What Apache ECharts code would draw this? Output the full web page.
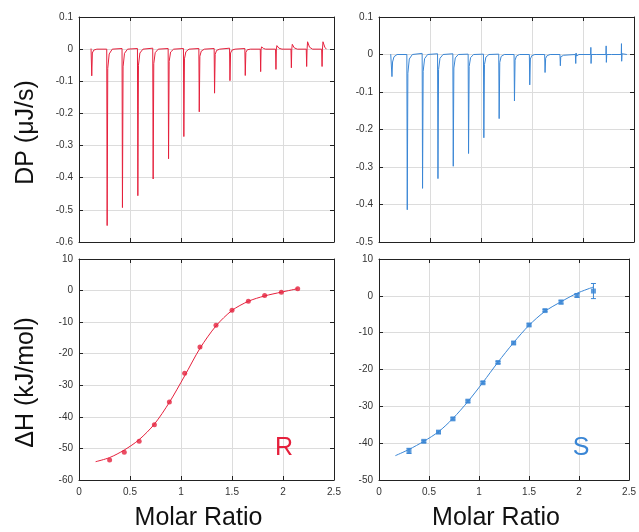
<!DOCTYPE html>
<html><head><meta charset="utf-8">
<script src="https://cdn.jsdelivr.net/npm/echarts@6/dist/echarts.min.js"></script>
<style>html,body{margin:0;padding:0;background:#fff}#c{width:639px;height:532px}</style>
</head><body><div id="c"></div>
<script>
// ---- Data ----
const xTicks = ['0', '0.5', '1', '1.5', '2', '2.5'];
// Raw thermogram traces (R = red, S = blue), [molar ratio position, DP µJ/s]
const dpR = [[0.118,0.002],[0.121,0],[0.125,-0.083],[0.131,-0.012],[0.145,-0.003],[0.175,0],
  [0.272,0],[0.276,-0.549],[0.282,-0.06],[0.296,-0.015],[0.326,0],
  [0.422,0.002],[0.426,-0.493],[0.432,-0.055],[0.446,-0.013],[0.476,0],
  [0.573,0.002],[0.577,-0.456],[0.583,-0.05],[0.597,-0.012],[0.627,0],
  [0.723,0.003],[0.727,-0.404],[0.733,-0.045],[0.747,-0.011],[0.777,0],
  [0.874,0.002],[0.878,-0.341],[0.884,-0.038],[0.898,-0.009],[0.928,0],
  [1.024,0.002],[1.028,-0.272],[1.034,-0.03],[1.048,-0.008],[1.078,0],
  [1.175,0.002],[1.179,-0.195],[1.185,-0.022],[1.199,-0.006],[1.229,0],
  [1.325,0.002],[1.329,-0.137],[1.335,-0.016],[1.349,-0.004],[1.379,0],
  [1.476,0.003],[1.480,-0.098],[1.486,-0.012],[1.500,-0.003],[1.530,0],
  [1.626,0.002],[1.630,-0.082],[1.636,-0.01],[1.650,-0.002],[1.680,0],
  [1.777,0],[1.781,-0.070],[1.785,0],[1.790,0.007],[1.81,0.002],[1.83,0],
  [1.927,0],[1.931,-0.063],[1.935,0],[1.940,0.011],[1.96,0.003],[1.99,0],
  [2.078,0],[2.082,-0.058],[2.086,0],[2.091,0.015],[2.11,0.004],[2.14,0],
  [2.228,0],[2.232,-0.054],[2.236,0],[2.241,0.023],[2.26,0.006],[2.29,0],
  [2.379,0],[2.383,-0.054],[2.387,0],[2.392,0.023],[2.41,0.006],[2.425,0]];
const dpS = [[0.115,0.001],[0.123,0],[0.127,-0.059],[0.133,-0.02],[0.147,-0.006],[0.177,0],
  [0.273,0],[0.277,-0.414],[0.283,-0.05],[0.297,-0.012],[0.327,0],
  [0.423,0.003],[0.427,-0.357],[0.433,-0.045],[0.447,-0.011],[0.477,0],
  [0.574,0.002],[0.578,-0.331],[0.584,-0.04],[0.598,-0.01],[0.628,0],
  [0.724,0.002],[0.728,-0.298],[0.734,-0.036],[0.748,-0.009],[0.778,0],
  [0.874,0.001],[0.878,-0.264],[0.884,-0.032],[0.898,-0.008],[0.928,0],
  [1.024,0.001],[1.028,-0.222],[1.034,-0.027],[1.048,-0.007],[1.078,0],
  [1.174,0.001],[1.178,-0.171],[1.184,-0.021],[1.198,-0.005],[1.228,0],
  [1.324,0],[1.328,-0.124],[1.334,-0.015],[1.348,-0.004],[1.378,0],
  [1.474,0],[1.478,-0.081],[1.484,-0.012],[1.498,-0.003],[1.528,0],
  [1.624,0],[1.628,-0.048],[1.634,-0.01],[1.648,-0.003],[1.678,0],
  [1.774,0],[1.778,-0.030],[1.782,-0.006],[1.79,-0.008],[1.81,-0.002],[1.828,0],
  [1.925,0],[1.929,-0.024],[1.932,0.004],[1.937,-0.004],[1.96,0],[1.979,0],
  [2.075,0],[2.077,0.019],[2.079,-0.024],[2.083,0],[2.129,0],
  [2.225,0],[2.227,0.023],[2.229,-0.021],[2.233,0],[2.279,0],
  [2.375,0],[2.377,0.029],[2.379,-0.018],[2.383,0.002],[2.40,0.001],[2.43,0]];
// Integrated heats
const ratioR = [0.30,0.444,0.59,0.739,0.886,1.036,1.186,1.343,1.50,1.66,1.82,1.984,2.144];
const dhR    = [-53.7,-51.2,-47.7,-42.5,-35.3,-26.2,-17.9,-11.0,-6.2,-3.4,-1.6,-0.5,0.6];
const fitRx  = [0.163,0.30,0.444,0.59,0.739,0.886,1.036,1.186,1.343,1.50,1.66,1.82,1.984,2.144];
const fitRy  = [-54.2,-52.9,-50.5,-47.2,-42.3,-35.4,-27.0,-18.3,-11.2,-6.3,-3.4,-1.7,-0.5,0.6];
const ratioS = [0.30,0.448,0.595,0.739,0.889,1.039,1.19,1.346,1.50,1.66,1.82,1.98,2.144];
const dhS    = [-42.1,-39.5,-37.0,-33.4,-28.6,-23.6,-18.1,-12.8,-7.9,-4.0,-1.7,0.1,1.3];
const errS   = [0.7,0.3,0.3,0.3,0.3,0.3,0.3,0.3,0.3,0.3,0.5,0.5,2.05];
const fitSx  = [0.163,0.30,0.448,0.595,0.739,0.889,1.039,1.19,1.346,1.50,1.66,1.82,1.98,2.144];
const fitSy  = [-43.4,-41.7,-39.5,-36.9,-33.3,-28.7,-23.5,-18.0,-12.7,-8.0,-4.2,-1.6,0.7,2.4];

// ---- Style ----
const RED = '#e5203c', BLUE = '#3a86d5';
const FONT = 'Liberation Sans, Arial, Helvetica, sans-serif';
const chart = echarts.init(document.getElementById('c'), null, {renderer: 'canvas'});

const grids = [
  {left: 79, top: 17, width: 255, height: 225},
  {left: 379, top: 17, width: 255, height: 225},
  {left: 79, top: 259, width: 255, height: 225},
  {left: 379, top: 259, width: 255, height: 225}
];
const yRanges = [[-0.6, 0.1, 0.1], [-0.5, 0.1, 0.1], [-60, 10, 10], [-50, 10, 10]];

const lineSty = {show: true, onZero: false, lineStyle: {color: '#222', width: 1}};
const tickSty = {show: true, inside: true, length: 4, lineStyle: {color: '#222'}};
const gridSty = {show: true, lineStyle: {color: '#dcdcdc', width: 1}};
const lblSty = {fontSize: 10, color: '#333', fontFamily: FONT};

const xAxis = [], yAxis = [];
grids.forEach((g, i) => {
  const bottomRow = i >= 2;
  const xa = {
    type: 'value', gridIndex: i, min: 0, max: 2.5, interval: 0.5, position: 'bottom',
    axisLine: lineSty, axisTick: tickSty, splitLine: gridSty,
    axisLabel: bottomRow ? Object.assign({margin: 7, formatter: v => xTicks[Math.round(v / 0.5)]}, lblSty) : {show: false}
  };
  if (bottomRow) {
    Object.assign(xa, {
      name: 'Molar Ratio', nameLocation: 'middle', nameGap: 26,
      nameTextStyle: {fontSize: 25, color: '#111', fontFamily: FONT, padding: [0, 16, 0, 0]}
    });
  }
  xAxis.push(xa);
  xAxis.push({type: 'value', gridIndex: i, min: 0, max: 2.5, interval: 0.5, position: 'top',
    axisLine: lineSty, axisTick: tickSty, splitLine: {show: false}, axisLabel: {show: false}});
  const [mn, mx, iv] = yRanges[i];
  const ya = {
    type: 'value', gridIndex: i, min: mn, max: mx, interval: iv, position: 'left',
    axisLine: lineSty, axisTick: tickSty, splitLine: gridSty,
    axisLabel: Object.assign({margin: 6}, lblSty)
  };
  if (i === 0) Object.assign(ya, {name: 'DP (μJ/s)', nameLocation: 'middle', nameGap: 40,
    nameTextStyle: {fontSize: 25, color: '#111', fontFamily: FONT, padding: [0, 6, 0, 0]}});
  if (i === 2) Object.assign(ya, {name: 'ΔH (kJ/mol)', nameLocation: 'middle', nameGap: 40,
    nameTextStyle: {fontSize: 25, color: '#111', fontFamily: FONT, padding: [0, 26, 0, 0]}});
  yAxis.push(ya);
  yAxis.push({type: 'value', gridIndex: i, min: mn, max: mx, interval: iv, position: 'right',
    axisLine: lineSty, axisTick: tickSty, splitLine: {show: false}, axisLabel: {show: false}});
});

const zip = (a, b) => a.map((v, k) => [v, b[k]]);

const series = [
  {type: 'line', xAxisIndex: 0, yAxisIndex: 0, data: dpR, showSymbol: false, silent: true,
   lineStyle: {color: RED, width: 1}, animation: false},
  {type: 'line', xAxisIndex: 2, yAxisIndex: 2, data: dpS, showSymbol: false, silent: true,
   lineStyle: {color: BLUE, width: 1}, animation: false},
  {type: 'line', xAxisIndex: 4, yAxisIndex: 4, data: zip(fitRx, fitRy), showSymbol: false, smooth: 0.3,
   lineStyle: {color: RED, width: 1}, animation: false},
  {type: 'scatter', xAxisIndex: 4, yAxisIndex: 4, data: zip(ratioR, dhR), symbol: 'circle', symbolSize: 5,
   itemStyle: {color: RED}, animation: false},
  {type: 'line', xAxisIndex: 6, yAxisIndex: 6, data: zip(fitSx, fitSy), showSymbol: false, smooth: 0.3,
   lineStyle: {color: BLUE, width: 1}, animation: false},
  {type: 'custom', xAxisIndex: 6, yAxisIndex: 6, data: ratioS.map((v, k) => [v, dhS[k], errS[k]]),
   animation: false,
   renderItem: (params, api) => {
     const x = api.value(0), y = api.value(1), e = api.value(2);
     const t = api.coord([x, y + e]), b = api.coord([x, y - e]);
     const st = {stroke: BLUE, lineWidth: 1};
     return {type: 'group', children: [
       {type: 'line', shape: {x1: t[0], y1: t[1], x2: b[0], y2: b[1]}, style: st},
       {type: 'line', shape: {x1: t[0] - 2.5, y1: t[1], x2: t[0] + 2.5, y2: t[1]}, style: st},
       {type: 'line', shape: {x1: b[0] - 2.5, y1: b[1], x2: b[0] + 2.5, y2: b[1]}, style: st}
     ]};
   }},
  {type: 'scatter', xAxisIndex: 6, yAxisIndex: 6, data: zip(ratioS, dhS), symbol: 'rect', symbolSize: 5,
   itemStyle: {color: BLUE}, animation: false}
];

chart.setOption({
  animation: false,
  grid: grids,
  xAxis, yAxis, series,
  graphic: [
    {type: 'text', x: 284, y: 448, z: 100, zlevel: 0,
     style: {text: 'R', fontSize: 25, fontFamily: FONT, fill: RED, stroke: null, lineWidth: 0, align: 'center', verticalAlign: 'middle'}},
    {type: 'text', x: 581, y: 448, z: 100, zlevel: 0,
     style: {text: 'S', fontSize: 25, fontFamily: FONT, fill: BLUE, stroke: null, lineWidth: 0, align: 'center', verticalAlign: 'middle'}}
  ]
});
</script></body></html>
